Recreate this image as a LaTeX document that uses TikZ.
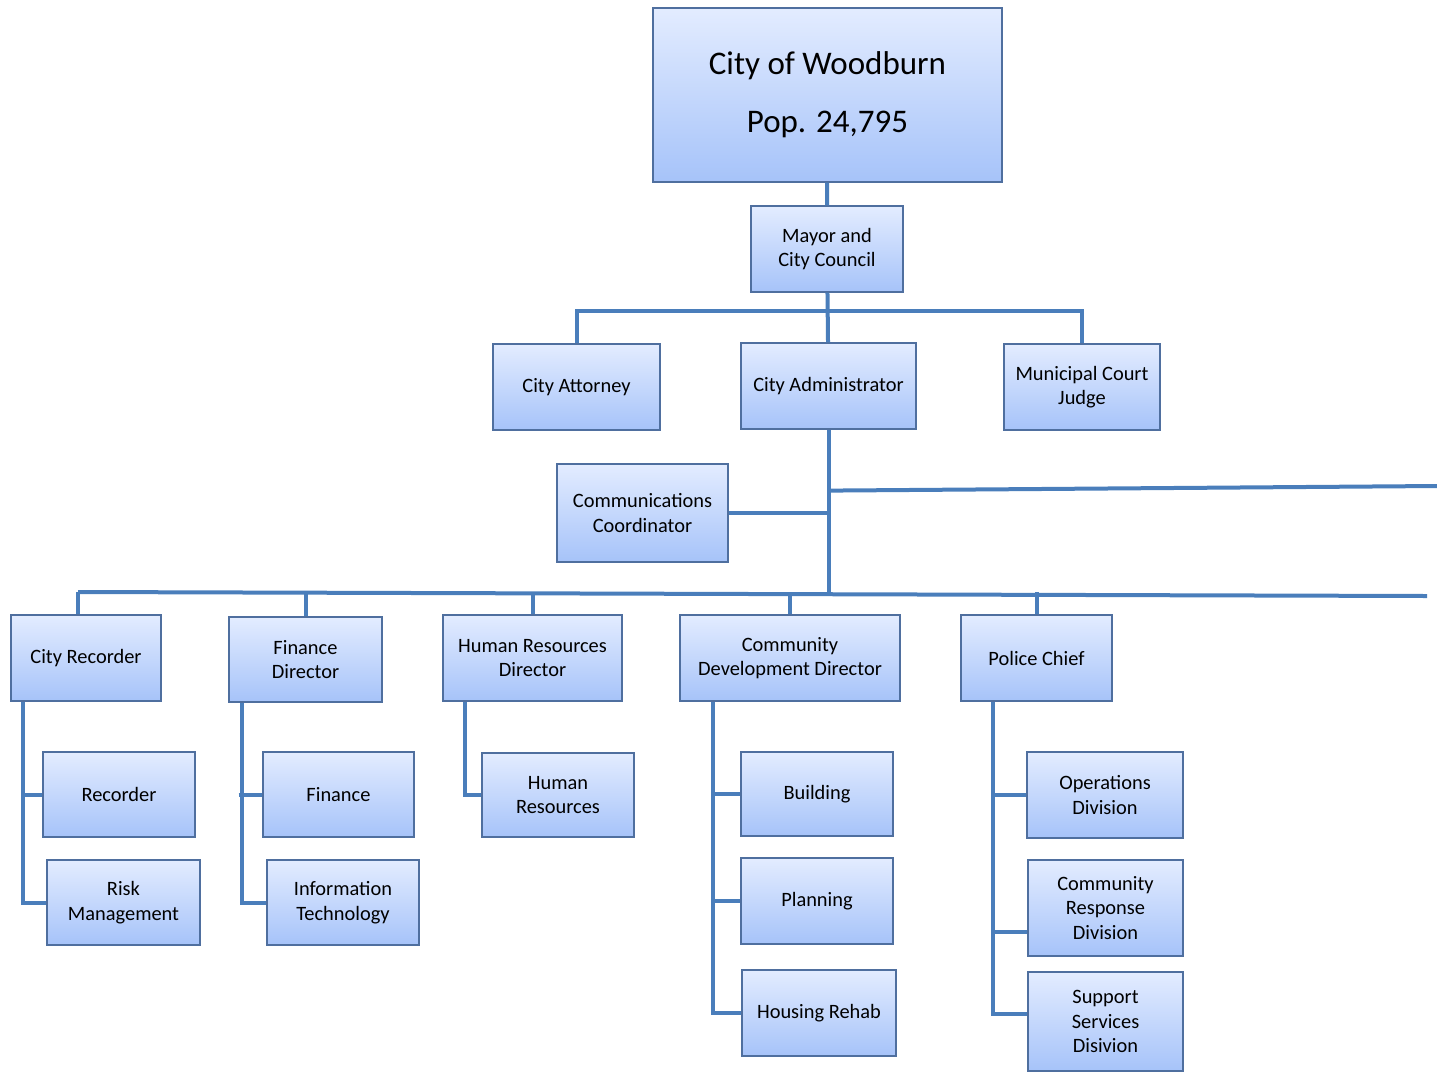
\documentclass[tikz,border=0pt]{standalone}
\usepackage{fontspec}
\setmainfont{Carlito}
\definecolor{boxtop}{HTML}{E3ECFF}
\definecolor{boxbottom}{HTML}{A6C3F9}
\definecolor{boxline}{HTML}{4F6F9F}
\definecolor{linkline}{HTML}{4A7EBB}
\begin{document}
\begin{tikzpicture}
  [x=0.5pt, y=-0.5pt,
    unit/.style={draw=boxline, line width=0.6pt, top color=boxtop,
    bottom color=boxbottom, align=center, inner sep=0pt,
    minimum height=43pt, font=\fontsize{10.2}{12.2}\selectfont},
    title/.style={unit, font=\fontsize{16.5}{29}\selectfont},
    link/.style={draw=linkline, line width=2pt}]
  \useasboundingbox (0,0) rectangle (1437,1078);
  % top of the tree
  \node[title, minimum width=174.5pt, minimum height=87pt] (city) at (827.5,95)
    {City of Woodburn\\Pop. 24,795};
  \node[unit, minimum width=76pt] (mayor) at (827,249) {Mayor and\\City Council};
  \node[unit, minimum width=83.5pt] (attorney) at (576.5,387) {City Attorney};
  \node[unit, minimum width=87.5pt] (admin) at (828.5,386) {City Administrator};
  \node[unit, minimum width=78pt] (judge) at (1082,387) {Municipal Court\\Judge};
  \node[unit, minimum width=85.5pt, minimum height=49pt] (comms) at (642.5,513)
    {Communications\\Coordinator};
  % directors
  \node[unit, minimum width=75pt] (recorderdir) at (86,658) {City Recorder};
  \node[unit, minimum width=76.5pt, minimum height=42.5pt] (financedir) at (305.5,659.5)
    {Finance\\Director};
  \node[unit, minimum width=89.5pt] (hrdir) at (532.5,658) {Human Resources\\Director};
  \node[unit, minimum width=110pt] (cddir) at (790,658) {Community\\Development Director};
  \node[unit, minimum width=75.5pt] (police) at (1036.5,658) {Police Chief};
  % departments
  \node[unit, minimum width=76pt, minimum height=42.5pt] (recorder) at (119,794.5) {Recorder};
  \node[unit, minimum width=76.5pt, minimum height=42.5pt] (risk) at (123.5,902.5)
    {Risk\\Management};
  \node[unit, minimum width=75.5pt, minimum height=42.5pt] (finance) at (338.5,794.5) {Finance};
  \node[unit, minimum width=76pt, minimum height=42.5pt] (infotech) at (343,902.5)
    {Information\\Technology};
  \node[unit, minimum width=76pt, minimum height=42pt] (hr) at (558,795) {Human\\Resources};
  \node[unit, minimum width=76pt, minimum height=42pt] (building) at (817,794) {Building};
  \node[unit, minimum width=76pt] (planning) at (817,901) {Planning};
  \node[unit, minimum width=77pt] (housing) at (819,1013) {Housing Rehab};
  \node[unit, minimum width=78pt] (operations) at (1105,795) {Operations\\Division};
  \node[unit, minimum width=77.5pt, minimum height=48pt] (response) at (1105.5,908)
    {Community\\Response\\Division};
  \node[unit, minimum width=77.5pt, minimum height=49.5pt] (support) at (1105.5,1021.5)
    {Support\\Services\\Disivion};
  % connectors
  \coordinate (upperbus) at (0,311);
  \coordinate (lowerleft) at (78,592);
  \coordinate (lowerright) at (1427,596);
  \coordinate (outright) at (1437,486);
  \path ([yshift=-12pt]response.west) coordinate (responsein)
    ([yshift=4pt]support.west) coordinate (supportin);
  \draw[link] (city) -- (mayor);
  \draw[link] (mayor) -- (admin);
  \draw[link] (attorney.north) -- (attorney.north |- upperbus) -| (judge.north);
  \draw[link] (admin.south) -- (admin.south |- lowerleft);
  \draw[link] (comms.east) -- (comms.east -| admin.south);
  \draw[link] ([yshift=-30.5pt]admin.south) -- (outright);
  \draw[link] (lowerleft) -- (lowerright);
  \draw[link] ([xshift=-4pt]recorderdir.north) -- (lowerleft);
  \foreach \n in {financedir, hrdir, cddir, police}
    \draw[link] (\n.north) -- (\n.north |- lowerleft);
  \draw[link] ([xshift=-31.5pt]recorderdir.south) |- (risk.west);
  \draw[link] ([xshift=-31.5pt]recorderdir.south |- recorder.west) -- (recorder.west);
  \draw[link] ([xshift=-32pt]financedir.south) |- (infotech.west);
  \draw[link] ([xshift=-33.5pt]financedir.south |- finance.west) -- (finance.west);
  \draw[link] ([xshift=-34pt]hrdir.south) |- (hr.west);
  \draw[link] ([xshift=-38.5pt]cddir.south) |- (housing.west);
  \foreach \n in {building, planning}
    \draw[link] ([xshift=-38.5pt]cddir.south |- \n.west) -- (\n.west);
  \draw[link] ([xshift=-22pt]police.south) |- (supportin);
  \draw[link] ([xshift=-22pt]police.south |- operations.west) -- (operations.west);
  \draw[link] ([xshift=-22pt]police.south |- responsein) -- (responsein);
\end{tikzpicture}
\end{document}
